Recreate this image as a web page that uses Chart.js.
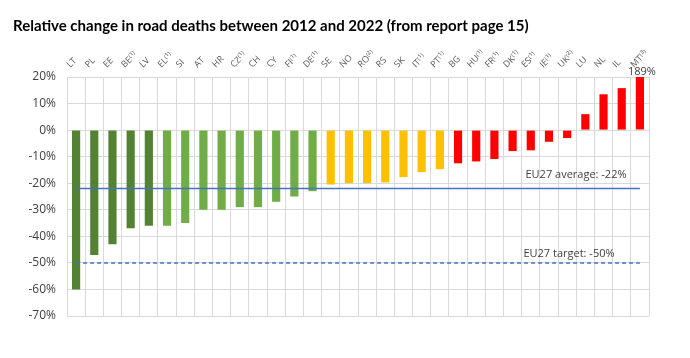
<!DOCTYPE html>
<html>
<head>
<meta charset="utf-8">
<script src="https://cdn.jsdelivr.net/npm/chart.js@4.4.0/dist/chart.umd.min.js"></script>
<style>
  html, body { margin: 0; padding: 0; background: #fff; }
  #wrap { position: relative; width: 690px; height: 358px; }
  #title { position: absolute; left: 13px; top: 16px; font: bold 15px Lato, "Open Sans", sans-serif; color: #000; white-space: nowrap; }
  canvas { position: absolute; left: 0; top: 0; }
</style>
</head>
<body>
<div id="wrap">
  <canvas id="chart" width="690" height="358"></canvas>
  <div id="title">Relative change in road deaths between 2012 and 2022 (from report page 15)</div>
</div>
<script>
  // countries, ordered as in the report (superscripts = footnotes)
  const countries = ['LT', 'PL', 'EE', 'BE⁽¹⁾', 'LV', 'EL⁽¹⁾', 'SI', 'AT', 'HR', 'CZ⁽¹⁾', 'CH', 'CY', 'FI⁽¹⁾', 'DE⁽¹⁾',
    'SE', 'NO', 'RO⁽²⁾', 'RS', 'SK', 'IT⁽¹⁾', 'PT⁽¹⁾', 'BG', 'HU⁽¹⁾', 'FR⁽¹⁾', 'DK⁽¹⁾', 'ES⁽¹⁾', 'IE⁽¹⁾', 'UK⁽²⁾',
    'LU', 'NL', 'IL', 'MT⁽³⁾'];
  // % change 2012-2022
  const change = [-60, -47, -43, -37, -36, -36, -35, -30, -30, -29, -29, -27, -25, -23,
    -20.5, -20, -20, -19.7, -17.7, -15.8, -14.7, -12.5, -11.8, -10.9, -7.9, -7.6, -4.4, -3,
    6, 13.5, 15.8, 189];
  const yTicks = [20, 10, 0, -10, -20, -30, -40, -50, -60, -70];
  const euAverage = -22;
  const euTarget = -50;

  const DARK_GREEN = '#548235', GREEN = '#70ad47', AMBER = '#ffc000', RED = '#ff0000', LINE = '#4472c4';
  function barColor(i) {
    if (i < 5) return DARK_GREEN;
    if (i < 14) return GREEN;
    if (i < 21) return AMBER;
    return RED;
  }

  const first = countries[0], last = countries[countries.length - 1];

  const notes = {
    id: 'notes',
    afterDatasetsDraw(chart) {
      const { ctx, scales: { x, y } } = chart;
      ctx.save();
      ctx.fillStyle = '#404040';
      ctx.font = '11px "Open Sans", "Liberation Sans", sans-serif';
      ctx.textAlign = 'center';
      ctx.textBaseline = 'alphabetic';
      ctx.fillText('EU27 average: ' + euAverage + '%', 576, y.getPixelForValue(euAverage) - 11);
      ctx.fillText('EU27 target: ' + euTarget + '%', 569, y.getPixelForValue(euTarget) - 6);
      const mt = change[change.length - 1];
      ctx.fillText(mt + '%', x.getPixelForValue(countries.length - 1) + 2, y.top - 2);
      ctx.restore();
    }
  };

  new Chart(document.getElementById('chart'), {
    data: {
      labels: countries,
      datasets: [
        {
          type: 'line', order: 1,
          data: [{ x: first, y: euAverage }, { x: last, y: euAverage }],
          borderColor: LINE, borderWidth: 1.5, pointRadius: 0,
        },
        {
          type: 'line', order: 1,
          data: [{ x: first, y: euTarget }, { x: last, y: euTarget }],
          borderColor: LINE, borderWidth: 1.5, borderDash: [4, 3], pointRadius: 0,
        },
        {
          type: 'bar', order: 2,
          data: change,
          backgroundColor: change.map((v, i) => barColor(i)),
          barPercentage: 0.45, categoryPercentage: 1,
        },
      ],
    },
    options: {
      responsive: false, animation: false,
      layout: { padding: { top: 42, right: 41, bottom: 42, left: 0 } },
      plugins: { legend: { display: false }, tooltip: { enabled: false } },
      scales: {
        x: {
          position: 'top',
          grid: { color: '#d9d9d9', offset: true, drawTicks: false },
          border: { color: '#d9d9d9' },
          ticks: {
            minRotation: 45, maxRotation: 45, autoSkip: false, padding: 7,
            color: '#595959', font: { family: '"Open Sans", "Liberation Sans", sans-serif', size: 9 },
          },
          afterFit(s) { s.height = 35; },
        },
        y: {
          min: -70, max: 20,
          afterBuildTicks(s) { s.ticks = yTicks.map(v => ({ value: v })); },
          grid: { color: '#d9d9d9', drawTicks: false },
          border: { color: '#d9d9d9' },
          ticks: {
            padding: 11, color: '#404040',
            font: { family: '"Open Sans", "Liberation Sans", sans-serif', size: 12 },
            callback: v => v + '%',
          },
          afterFit(s) { s.width = 67; },
        },
      },
    },
    plugins: [notes],
  });
</script>
</body>
</html>
